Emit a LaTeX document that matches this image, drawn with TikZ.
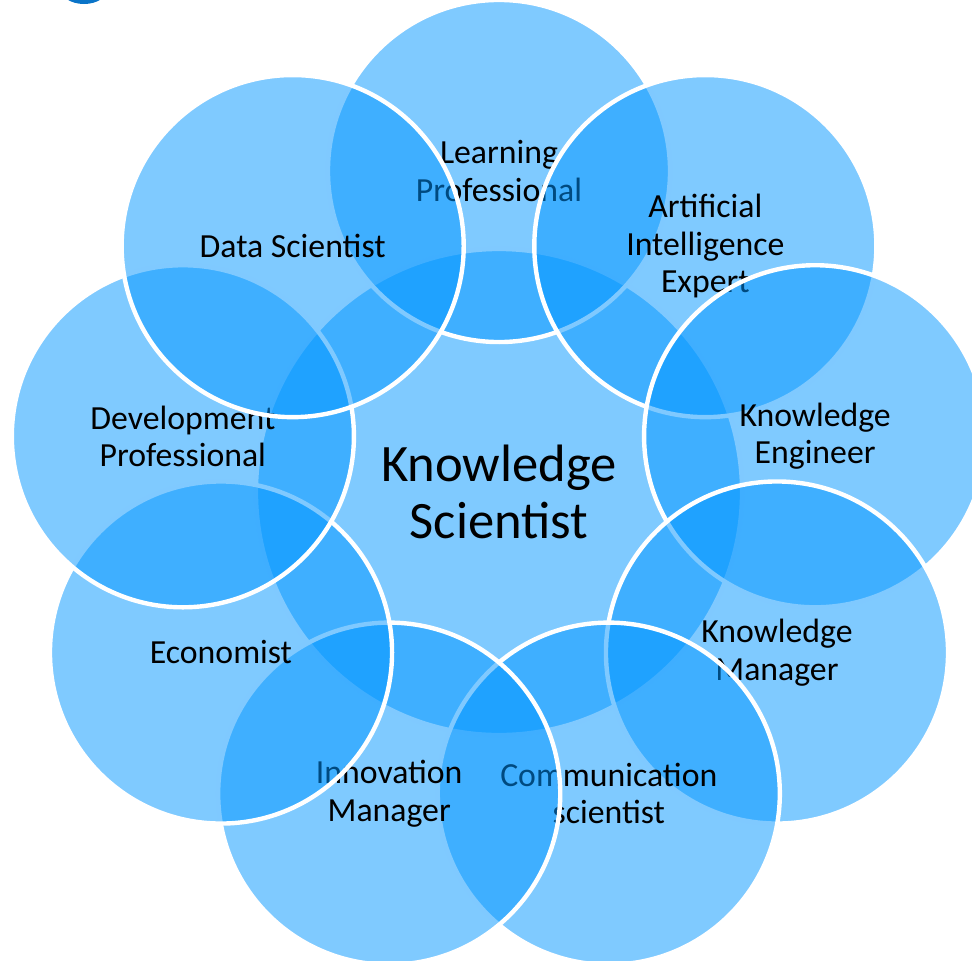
\documentclass[tikz,border=0pt]{standalone}
\usepackage{fontspec}
\setmainfont{Carlito}
\usetikzlibrary{positioning}

\definecolor{vennblue}{RGB}{0,149,255}
\definecolor{logoblue}{RGB}{10,116,200}

\tikzset{
  venn/.style={circle, draw=white, line width=0.11cm, fill=vennblue,
    fill opacity=0.5, text opacity=1, inner sep=0pt, align=center},
  outer/.style={venn, minimum size=8.55cm, font=\fontsize{24}{26.7}\selectfont},
  inner/.style={venn, minimum size=12.15cm, font=\fontsize{37.4}{41.1}\selectfont}
}

\begin{document}
\begin{tikzpicture}[x=0.025cm,y=-0.025cm]
 \useasboundingbox (0,0) rectangle (972,960);
 \clip (0,0) rectangle (972,960);
 \fill[logoblue] (84,-12) ellipse [x radius=0.6cm, y radius=0.4cm];
 % centre circle
 \node[inner] (ks) at (499,492) {Knowledge\\Scientist};
 % outer ring, clockwise from the top
 \foreach \a/\n/\t in {90/lp/{Learning\\Professional},
                       50/aie/{Artificial\\Intelligence\\Expert},
                       10/ke/{Knowledge\\Engineer},
                       -30/km/{Knowledge\\Manager},
                       -70/cs/{Communication\\scientist},
                       -110/im/{Innovation\\Manager},
                       -150/eco/{Economist},
                       170/dp/{Development\\Professional},
                       130/ds/{Data Scientist}}
   \node[outer] (\n) at ({499+321*cos(\a)},{492-321*sin(\a)}) {\t};
\end{tikzpicture}
\end{document}
